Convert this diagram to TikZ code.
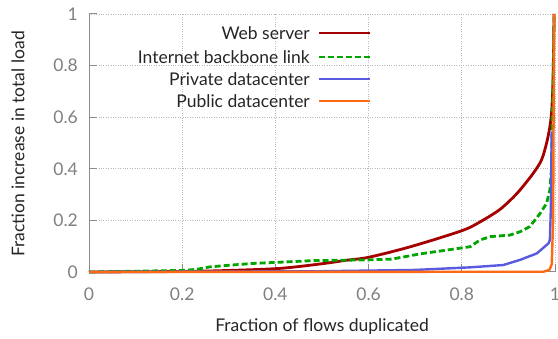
\documentclass[tikz,border=0pt]{standalone}
\usepackage{fontspec}
\setmainfont{Lato}
\begin{document}
\begin{tikzpicture}[x=1pt,y=1pt,
  grid/.style={draw=black!28, line width=0.7pt, dash pattern=on 0.8pt off 1.6pt},
  axisline/.style={draw=black!45, line width=1pt},
  ticklab/.style={text=black!50, font=\fontsize{17.5}{17.5}\selectfont, inner sep=0pt},
  title/.style={text=black!85, font=\fontsize{17.5}{17.5}\selectfont, inner sep=0pt},
  legtext/.style={text=black!85, font=\fontsize{17.5}{17.5}\selectfont, inner sep=0pt, anchor=east},
  webline/.style={draw={rgb,255:red,165;green,0;blue,0}, line width=2.8pt, line join=round},
  netline/.style={draw={rgb,255:red,0;green,165;blue,0}, line width=2.8pt, dash pattern=on 6pt off 3pt},
  privline/.style={draw={rgb,255:red,90;green,90;blue,225}, line width=2.4pt, line join=round},
  publine/.style={draw={rgb,255:red,255;green,105;blue,20}, line width=2.4pt, line join=round}
]
\useasboundingbox (0,0) rectangle (558,339);
\fill[white] (0,0) rectangle (558,339);

% plot region: data (0,0) at (89,67), data (1,1) at (555,325)
\begin{scope}[shift={(89,67)}, x=466pt, y=258pt]
  % dotted grid and frame
  \foreach \v in {0.2,0.4,0.6,0.8,1}{
    \draw[grid] (\v,0) -- (\v,1);
    \draw[grid] (0,\v) -- (1,\v);
  }
  % solid axes
  \draw[axisline] (0,1) -- (0,0) -- (1,0);
  % inward ticks
  \foreach \v in {0.2,0.4,0.6,0.8,1}{
    \draw[axisline] (\v,0) -- ++(0,8pt);
    \draw[axisline] (0,\v) -- ++(8pt,0);
  }
  % tick labels
  \foreach \v/\t in {0/0,0.2/0.2,0.4/0.4,0.6/0.6,0.8/0.8,1/1}{
    \node[ticklab, anchor=east] (yl\t) at ([xshift=-11pt]0,\v) {\t};
    \node[ticklab, anchor=north] (xl\t) at ([yshift=-16pt]\v,0) {\t};
  }

  % Web server
  \draw[webline] plot[smooth, tension=0.5] coordinates {
    (0,0) (0.2,0.002) (0.3,0.006) (0.41,0.014) (0.5,0.032) (0.55,0.045)
    (0.6,0.057) (0.69,0.098) (0.8,0.16) (0.84,0.195) (0.88,0.24) (0.905,0.28)
    (0.925,0.318) (0.953,0.382) (0.971,0.434) (0.982,0.5) (0.989,0.563)
    (0.993,0.628) (0.996,0.757) (0.998,1)};

  % Internet backbone link
  \draw[netline] plot coordinates {
    (0,0) (0.1,0.003) (0.2,0.006) (0.23,0.01) (0.26,0.02) (0.3,0.026)
    (0.35,0.033) (0.41,0.038) (0.48,0.044) (0.6,0.047) (0.65,0.05)
    (0.71,0.07) (0.76,0.083) (0.818,0.098) (0.839,0.124) (0.861,0.137)
    (0.903,0.143) (0.925,0.156) (0.946,0.176) (0.968,0.227) (0.982,0.266)
    (0.989,0.318) (0.992,0.39) (0.995,0.65) (0.998,1)};

  % Private datacenter
  \draw[privline] plot coordinates {
    (0,0) (0.5,0.003) (0.7,0.008) (0.818,0.018) (0.889,0.027) (0.925,0.047)
    (0.961,0.072) (0.986,0.111) (0.989,0.124) (0.991,0.24) (0.993,0.545)};

  % Public datacenter
  \draw[publine] plot coordinates {
    (0,0) (0.975,0.001) (0.988,0.008) (0.993,0.03) (0.996,0.2)
    (0.997,0.6) (0.998,1)};
\end{scope}

% axis titles
\node[title] (xtitle) at (322,12) {Fraction of flows duplicated};
\node[title, rotate=90] (ytitle) at (18,195) {Fraction increase in total load};

% legend
\node[legtext] (lweb)  at (310,306) {Web server};
\node[legtext] (lnet)  at (310,282) {Internet backbone link};
\node[legtext] (lpriv) at (310,260) {Private datacenter};
\node[legtext] (lpub)  at (310,238) {Public datacenter};
\coordinate (kweb)  at (370,306);
\coordinate (knet)  at (370,282);
\coordinate (kpriv) at (370,260);
\coordinate (kpub)  at (370,238);
\draw[webline]  ([xshift=9pt]lweb.east)  -- (kweb);
\draw[netline]  ([xshift=9pt]lnet.east)  -- (knet);
\draw[privline] ([xshift=9pt]lpriv.east) -- (kpriv);
\draw[publine]  ([xshift=9pt]lpub.east)  -- (kpub);
\end{tikzpicture}
\end{document}
